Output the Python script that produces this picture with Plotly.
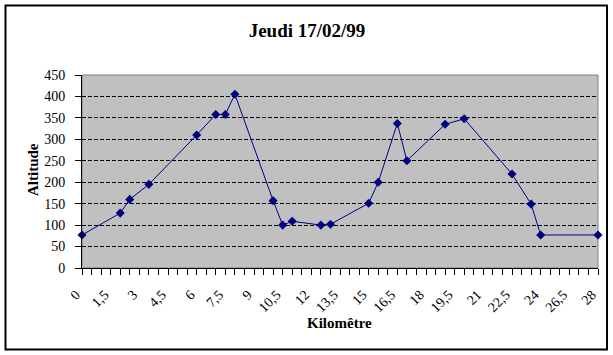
import plotly.graph_objects as go

# Category axis (km), as in the original spreadsheet
categories = ["0", "0,5", "1", "1,5", "2", "2,5", "3", "3,5", "4", "4,5",
              "5", "5,5", "6", "6,5", "7", "7,5", "8", "8,5", "9", "9,5",
              "10", "10,5", "11", "11,5", "12", "12,5", "13", "13,5", "14", "14,5",
              "15", "15,5", "16", "16,5", "17", "17,5", "18", "18,5", "19", "19,5",
              "20", "20,5", "21", "21,5", "22", "22,5", "23", "23,5", "24",
              "25,5", "26", "26,5", "27", "27,5", "28"]
shown_labels = ["0", "1,5", "3", "4,5", "6", "7,5", "9", "10,5", "12", "13,5",
                "15", "16,5", "18", "19,5", "21", "22,5", "24", "26,5", "28"]

km = ["0", "2", "2,5", "3,5", "6", "7", "7,5", "8", "10", "10,5", "11", "12,5",
      "13", "15", "15,5", "16,5", "17", "19", "20", "22,5", "23,5", "24", "28"]
altitude = [77, 128, 160, 195, 310, 358, 358, 405, 157, 100, 109, 100,
            102, 151, 200, 337, 250, 335, 348, 219, 149, 77, 77]

W, H = 613, 355
L, R, T, B = 82, 15, 75, 87
PW, PH = W - L - R, H - T - B
SERIF = "Liberation Serif, Times New Roman, serif"


def px(x):
    return (x - L) / PW


def py(y):
    return (H - B - y) / PH


fig = go.Figure()
fig.add_trace(go.Scatter(
    x=km, y=altitude, mode="lines+markers",
    line=dict(color="#000080", width=1),
    marker=dict(symbol="diamond", size=7, color="#000080"),
    cliponaxis=False, showlegend=False,
))

fig.update_layout(
    width=W, height=H,
    margin=dict(l=L, r=R, t=T, b=B),
    paper_bgcolor="white", plot_bgcolor="#C0C0C0",
    font=dict(family=SERIF, size=14, color="black"),
    title=dict(text="<b>Jeudi 17/02/99</b>", x=307 / W, xref="container",
               xanchor="center", y=1 - 30 / H, yref="container", yanchor="middle",
               font=dict(family=SERIF, size=19, color="black")),
    xaxis=dict(type="category", categoryorder="array", categoryarray=categories,
               range=[0, len(categories) - 1],
               tickmode="array", tickvals=categories,
               ticktext=[c if c in shown_labels else "" for c in categories],
               tickangle=-45, ticks="outside", ticklen=6, tickcolor="black",
               ticklabelshift=-6, ticklabelstandoff=6,
               tickfont=dict(family=SERIF, size=14, color="black"),
               showline=True, linecolor="black", linewidth=1,
               showgrid=False, zeroline=False),
    yaxis=dict(range=[0, 450], tick0=0, dtick=50, ticks="outside", ticklen=6,
               tickcolor="black", ticklabelstandoff=7,
               tickfont=dict(family=SERIF, size=14, color="black"),
               showline=True, linecolor="black", linewidth=1,
               showgrid=True, gridcolor="black", gridwidth=1, griddash="4px,2px",
               zeroline=False),
    shapes=[
        dict(type="rect", xref="paper", yref="paper", x0=0, x1=1, y0=0, y1=1,
             line=dict(color="#808080", width=1), layer="below"),
        dict(type="rect", xref="paper", yref="paper",
             x0=px(5.5), x1=px(607), y0=py(349.5), y1=py(5.5),
             line=dict(color="black", width=2)),
    ],
    annotations=[
        dict(text="<b>Altitude</b>", xref="paper", yref="paper",
             x=px(33), y=py(170), textangle=-90, showarrow=False,
             xanchor="center", yanchor="middle",
             font=dict(family=SERIF, size=15, color="black")),
        dict(text="<b>Kilomêtre</b>", xref="paper", yref="paper",
             x=px(339), y=py(323), showarrow=False,
             xanchor="center", yanchor="middle",
             font=dict(family=SERIF, size=15, color="black")),
    ],
)

fig.write_html("out.html")
